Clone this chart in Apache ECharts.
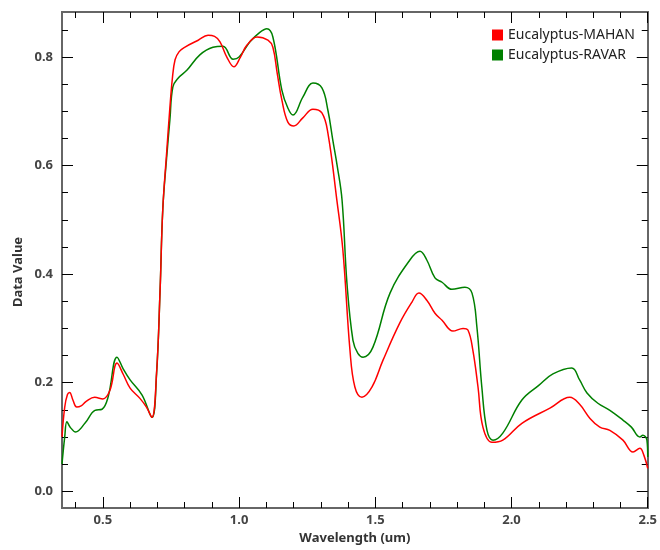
<!DOCTYPE html>
<html>
<head>
<meta charset="utf-8">
<script src="https://cdn.jsdelivr.net/npm/echarts@6/dist/echarts.min.js"></script>
<style>html,body{margin:0;padding:0;background:#fff}#c{width:660px;height:550px}</style>
</head>
<body>
<div id="c"></div>
<script>
// Wavelength (um) and data values
var wlMahan = [0.35,0.36,0.37,0.378,0.39,0.404,0.42,0.44,0.47,0.50,0.526,0.552,0.575,0.60,0.636,0.66,0.68,0.697,0.71,0.72,0.735,0.745,0.755,0.765,0.78,0.80,0.85,0.886,0.91,0.93,0.955,0.981,1.005,1.029,1.066,1.106,1.124,1.14,1.157,1.179,1.201,1.234,1.271,1.304,1.326,1.359,1.381,1.407,1.425,1.451,1.488,1.528,1.59,1.634,1.66,1.689,1.719,1.745,1.785,1.822,1.84,1.858,1.877,1.895,1.928,1.968,2.038,2.141,2.214,2.25,2.288,2.324,2.361,2.409,2.446,2.471,2.486,2.5];
var mahan = [0.10,0.155,0.178,0.182,0.168,0.155,0.157,0.166,0.173,0.170,0.186,0.236,0.215,0.190,0.171,0.155,0.136,0.217,0.37,0.52,0.63,0.70,0.76,0.795,0.810,0.818,0.831,0.840,0.838,0.828,0.800,0.782,0.800,0.822,0.837,0.831,0.818,0.77,0.721,0.680,0.673,0.688,0.704,0.697,0.660,0.536,0.444,0.260,0.192,0.173,0.192,0.241,0.310,0.348,0.365,0.352,0.328,0.315,0.295,0.300,0.297,0.260,0.192,0.118,0.090,0.094,0.125,0.153,0.173,0.160,0.134,0.118,0.112,0.094,0.072,0.079,0.066,0.042];
var wlRavar = [0.35,0.36,0.368,0.38,0.40,0.434,0.471,0.497,0.519,0.552,0.575,0.60,0.644,0.68,0.697,0.71,0.72,0.735,0.746,0.757,0.776,0.809,0.856,0.904,0.941,0.978,1.00,1.04,1.075,1.102,1.124,1.157,1.179,1.198,1.234,1.271,1.304,1.326,1.344,1.36,1.378,1.396,1.418,1.436,1.455,1.491,1.554,1.627,1.664,1.689,1.719,1.745,1.781,1.829,1.855,1.873,1.891,1.91,1.932,1.968,2.038,2.10,2.152,2.221,2.25,2.277,2.317,2.361,2.409,2.44,2.471,2.482,2.497,2.5];
var ravar = [0.05,0.10,0.128,0.118,0.109,0.125,0.149,0.151,0.173,0.247,0.225,0.205,0.177,0.136,0.215,0.37,0.52,0.62,0.684,0.745,0.761,0.776,0.804,0.818,0.820,0.796,0.800,0.828,0.845,0.852,0.837,0.739,0.706,0.693,0.726,0.752,0.743,0.702,0.647,0.60,0.536,0.383,0.278,0.254,0.247,0.265,0.365,0.426,0.442,0.426,0.393,0.385,0.372,0.376,0.365,0.302,0.192,0.112,0.094,0.107,0.168,0.195,0.216,0.227,0.205,0.181,0.162,0.149,0.131,0.118,0.100,0.103,0.094,0.063];
var xTicks = [0.5,1.0,1.5,2.0,2.5];
var xMinor = [0.4,0.6,0.7,0.8,0.9,1.1,1.2,1.3,1.4,1.6,1.7,1.8,1.9,2.1,2.2,2.3,2.4];
var yTicks = [0.0,0.2,0.4,0.6,0.8];
var yMinor = [0.05,0.1,0.15,0.25,0.3,0.35,0.45,0.5,0.55,0.65,0.7,0.75,0.85];
var seriesNames = ['Eucalyptus-MAHAN','Eucalyptus-RAVAR'];
var yTitle = 'Data Value';
var xTitle = 'Wavelength (um)';

function pairs(xs, ys){ return xs.map(function(x,i){ return [x, ys[i]]; }); }

var FONT = 'Noto Sans';
var lineSty = {color:'#666', width:2};
function xAx(pos, ticks, len, labels){
  return {
    type:'value', min:0.35, max:2.5, position:pos,
    axisLine:{show:true, onZero:false, lineStyle:lineSty},
    axisTick:{show:true, inside:true, length:len, customValues:ticks, lineStyle:{color:'#000', width:1}},
    axisLabel:labels ? {show:true, customValues:ticks, margin:6, color:'#444', fontFamily:FONT, fontWeight:'bold', fontSize:13,
      formatter:function(v){return v.toFixed(1);}} : {show:false},
    splitLine:{show:false}
  };
}
function yAx(pos, ticks, len, labels){
  return {
    type:'value', min:-0.031, max:0.883, position:pos,
    axisLine:{show:true, onZero:false, lineStyle:lineSty},
    axisTick:{show:true, inside:true, length:len, customValues:ticks, lineStyle:{color:'#000', width:1}},
    axisLabel:labels ? {show:true, customValues:ticks, margin:9, color:'#444', fontFamily:FONT, fontWeight:'bold', fontSize:13,
      formatter:function(v){return v.toFixed(1);}} : {show:false},
    splitLine:{show:false}
  };
}

var xa0 = xAx('bottom', xTicks, 11, true);
xa0.name = xTitle;
xa0.nameLocation = 'middle';
xa0.nameGap = 22;
xa0.nameTextStyle = {color:'#333', fontFamily:FONT, fontWeight:'bold', fontSize:13};
var ya0 = yAx('left', yTicks, 11, true);

var chart = echarts.init(document.getElementById('c'), null, {renderer:'canvas'});
chart.setOption({
  animation:false,
  backgroundColor:'#fff',
  grid:{left:62, right:12, top:12, bottom:42, containLabel:false},
  legend:{
    data:seriesNames, orient:'vertical', left:487, top:23, itemGap:6,
    icon:'rect', itemWidth:11, itemHeight:11,
    textStyle:{color:'#222', fontFamily:FONT, fontSize:14}
  },
  graphic:[{
    type:'text', x:18, y:272, rotation:Math.PI/2,
    style:{text:yTitle, fill:'#333', font:'bold 13px "Noto Sans"', textAlign:'center', textVerticalAlign:'middle'}
  }],
  xAxis:[xa0, xAx('bottom', xMinor, 6, false), xAx('top', xTicks, 11, false), xAx('top', xMinor, 6, false)],
  yAxis:[ya0, yAx('left', yMinor, 6, false), yAx('right', yTicks, 11, false), yAx('right', yMinor, 6, false)],
  series:[
    {name:seriesNames[1], type:'line', xAxisIndex:0, yAxisIndex:0, data:pairs(wlRavar, ravar),
     showSymbol:false, smooth:0.4, lineStyle:{color:'#008000', width:1.5}, itemStyle:{color:'#008000'}},
    {name:seriesNames[0], type:'line', xAxisIndex:0, yAxisIndex:0, data:pairs(wlMahan, mahan),
     showSymbol:false, smooth:0.4, lineStyle:{color:'#ff0000', width:1.5}, itemStyle:{color:'#ff0000'}}
  ]
});
</script>
</body>
</html>
